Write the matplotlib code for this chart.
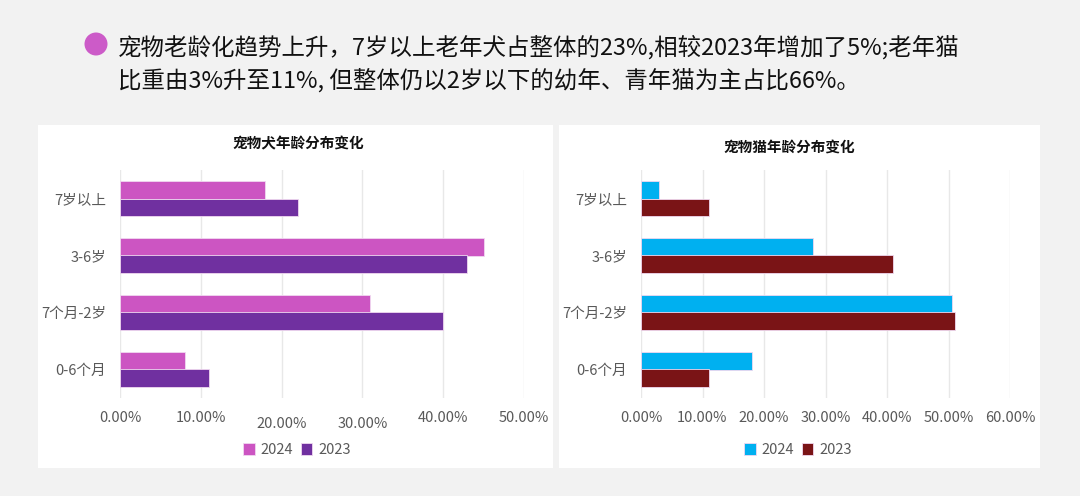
import numpy as np
import matplotlib
matplotlib.use("Agg")
import matplotlib.pyplot as plt
from matplotlib.patches import Rectangle, Ellipse
from matplotlib.transforms import ScaledTranslation
from matplotlib.ticker import FuncFormatter

plt.rcParams['font.family'] = ['Noto Sans CJK SC', 'DejaVu Sans']

# data (bottom to top)
age_groups = ['0-6个月', '7个月-2岁', '3-6岁', '7岁以上']
dog_2024 = [8, 31, 45, 18]
dog_2023 = [11, 40, 43, 22]
cat_2024 = [18, 50.5, 28, 3]
cat_2023 = [11, 51, 41, 11]

headline_1 = '宠物老龄化趋势上升，7岁以上老年犬占整体的23%,相较2023年增加了5%;老年猫'
headline_2 = '比重由3%升至11%, 但整体仍以2岁以下的幼年、青年猫为主占比66%。'

W, H = 1080, 496
fig = plt.figure(figsize=(W / 100, H / 100), dpi=100)
fig.patch.set_facecolor('#f2f2f2')


def fx(px):
    return px / W


def fy(py):
    return 1 - py / H


# white panels
for x0, x1 in [(38, 553), (559, 1040)]:
    fig.patches.append(Rectangle((fx(x0), fy(468)), fx(x1 - x0), (468 - 125) / H,
                                 transform=fig.transFigure, facecolor='white',
                                 edgecolor='none', zorder=0))

# headline with bullet
fig.patches.append(Ellipse((fx(96), fy(44)), 23 / W, 23 / H, transform=fig.transFigure,
                           facecolor='#cc5bc8', edgecolor='none'))
fig.text(fx(118), fy(47), headline_1, fontsize=16.9, color='#111111', va='center', ha='left')
fig.text(fx(118), fy(80), headline_2, fontsize=16.9, color='#111111', va='center', ha='left')


def draw_panel(rect, vals_24, vals_23, c24, c23, xmax, title, title_xy, legend_x, stagger):
    ax = fig.add_axes(rect)
    ax.set_zorder(2)
    ax.set_facecolor('none')
    y = np.arange(len(age_groups))
    h = 0.3
    ax.barh(y + h / 2, np.array(vals_24) / 100, height=h, color=c24, edgecolor='#f0d8f0',
            linewidth=0.6, label='2024', zorder=3)
    ax.barh(y - h / 2, np.array(vals_23) / 100, height=h, color=c23, edgecolor='#f0d8f0',
            linewidth=0.6, label='2023', zorder=3)
    ax.set_ylim(-0.5, len(age_groups) - 0.5)
    ax.set_xlim(0, xmax / 100)
    ticks = np.arange(0, xmax + 1, 10) / 100
    ax.set_xticks(ticks)
    ax.xaxis.set_major_formatter(FuncFormatter(lambda v, p: f'{v * 100:.2f}%'))
    ax.set_yticks(y)
    ax.set_yticklabels(age_groups)
    ax.grid(axis='x', color='#e8e8e8', linewidth=1, zorder=0)
    ax.set_axisbelow(True)
    for s in ax.spines.values():
        s.set_visible(False)
    ax.tick_params(length=0, labelsize=10.5, labelcolor='#595959')
    ax.tick_params(axis='x', pad=9)
    ax.tick_params(axis='y', pad=10)
    for i, lab in enumerate(ax.get_xticklabels()):
        if i in stagger:
            lab.set_transform(lab.get_transform() + ScaledTranslation(0, -6 / 100, fig.dpi_scale_trans))
    fig.text(title_xy[0], title_xy[1], title, fontsize=10.5, fontweight='bold',
             color='#111111', ha='center', va='center')
    leg = fig.legend(handles=ax.get_legend_handles_labels()[0], labels=['2024', '2023'],
                     loc='center', bbox_to_anchor=(legend_x, fy(450)), ncol=2, frameon=False,
                     fontsize=10.5, labelcolor='#595959', handlelength=0.8, handleheight=0.8,
                     handletextpad=0.4, columnspacing=0.5)
    leg.set_zorder(3)
    return ax


draw_panel([fx(120), fy(398), fx(524 - 120), (398 - 170) / H], dog_2024, dog_2023,
           '#cc55c2', '#7030a0', 50, '宠物犬年龄分布变化', (fx(298), fy(143)), fx(297), [2, 3])
draw_panel([fx(641), fy(398), fx(1010 - 641), (398 - 170) / H], cat_2024, cat_2023,
           '#00b0f0', '#7a1416', 60, '宠物猫年龄分布变化', (fx(789), fy(147)), fx(798), [])

fig.savefig('out.png', dpi=100, facecolor=fig.get_facecolor())
